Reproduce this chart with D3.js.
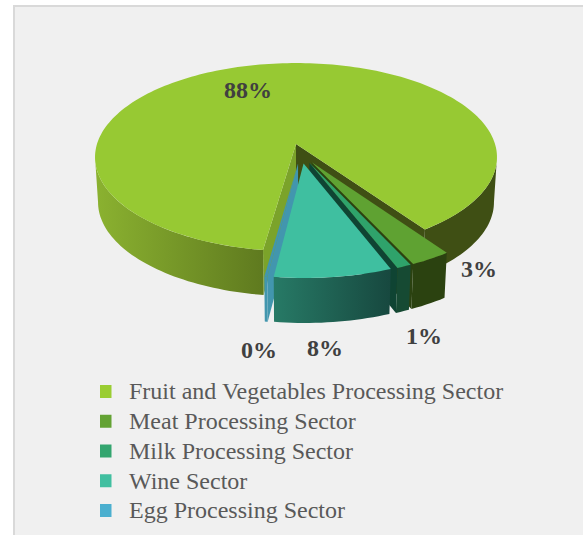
<!DOCTYPE html>
<html>
<head>
<meta charset="utf-8">
<script src="https://cdn.jsdelivr.net/npm/d3@7"></script>
<style>
  html, body { margin: 0; padding: 0; background: #fff; }
  svg { display: block; }
  text { font-family: "Liberation Serif", serif; }
</style>
</head>
<body>
<script>
// values
const categories = ["Fruit and Vegetables Processing Sector", "Meat Processing Sector", "Milk Processing Sector", "Wine Sector", "Egg Processing Sector"];
const shares = [88.0, 2.8, 1.0, 8.0, 0.2];

// colours for each slice
const legendColors = ["#9acd32", "#63a233", "#33a56f", "#41bfa0", "#4bafcf"];
const topColors = ["#97c933", "#5fa232", "#2fa36b", "#3fbfa0", "#4296ae"];
const wallStart = ["#8bb230", "#2b4210", "#164a33", "#277a66", "#4296ae"];
const wallEnd = ["#5f7a1f", "#2b4210", "#164a33", "#17483f", "#4296ae"];
const faceStart = ["#7ba32a", "#2b4210", "#164a33", "#17483f", "#4296ae"];
const faceEnd = ["#3f4f14", "#2b4210", "#0f4433", "#17483f", "#4296ae"];

// label placement, same order as categories
const labelX = [248, 479, 424, 325, 259];
const labelY = [90, 269, 336, 348, 350];

const width = 583, height = 535;
const firstAngle = 188.2;   // first slice angle, degrees clockwise from the top
const explode = 0.105;
const tilt = 0.14;          // perspective strength
const depth = 45;
const bottomScaleX = 0.985; // the bottom face is a little narrower
const silhouette = [98, 262]; // wall is only visible between these angles

const rad = d => d * Math.PI / 180;

const xScale = d3.scaleLinear().domain([-1, 1]).range([296 - 199, 296 + 199]);
const yScale = d3.scaleLinear().domain([-1, 1]).range([144 - 92.3, 144 + 92.3]);

const svg = d3.select("body").append("svg")
  .attr("width", width)
  .attr("height", height);

// chart area
svg.append("rect")
  .attr("x", 14).attr("y", 6)
  .attr("width", width).attr("height", height)
  .attr("fill", "#f0f0f0")
  .attr("stroke", "#d9d9d9")
  .attr("stroke-width", 2);

const defs = svg.append("defs");

// project a point on the disc, level 0 is the top face and 1 the bottom face
function project(u, v, level) {
  const s = 1 / (1 - tilt * v);
  return level
    ? [xScale(u * s * bottomScaleX), yScale(v * s) + depth]
    : [xScale(u * s), yScale(v * s)];
}

const dir = a => [Math.sin(rad(a)), -Math.cos(rad(a))];
const line = d3.line();

const arcs = d3.pie().sort(null).value(d => d)
  .startAngle(rad(firstAngle))
  .endAngle(rad(firstAngle + 360))(shares)
  .map(d => ({
    index: d.index,
    start: d.startAngle * 180 / Math.PI,
    end: d.endAngle * 180 / Math.PI,
    mid: (d.startAngle + d.endAngle) * 90 / Math.PI
  }));

// the big slice sits at the origin, every other one moves out from the common centre
const bigDir = dir(arcs[0].mid);
arcs.forEach(d => {
  const m = dir(d.mid);
  d.ou = explode * (m[0] - bigDir[0]);
  d.ov = explode * (m[1] - bigDir[1]);
});

function rimPoint(d, a, level) {
  const p = dir(a);
  return project(d.ou + p[0], d.ov + p[1], level);
}

function arcPoints(d, a0, a1, level) {
  const n = Math.max(2, Math.ceil(Math.abs(a1 - a0) / 1.5));
  return d3.range(n + 1).map(i => rimPoint(d, a0 + (a1 - a0) * i / n, level));
}

const pieG = svg.append("g");

function drawFace(d, a, color) {
  const apexTop = project(d.ou, d.ov, 0), apexBottom = project(d.ou, d.ov, 1);
  pieG.append("path")
    .attr("d", line([apexTop, rimPoint(d, a, 0), rimPoint(d, a, 1), apexBottom]) + "Z")
    .attr("fill", color);
}

function drawWall(d, a0, a1) {
  const top = arcPoints(d, a0, a1, 0);
  const bottom = arcPoints(d, a1, a0, 1);
  const id = "wall" + d.index + "-" + Math.round(a0);
  const xs = d3.extent(top.concat(bottom), p => p[0]);
  const g = defs.append("linearGradient")
    .attr("id", id)
    .attr("gradientUnits", "userSpaceOnUse")
    .attr("x1", xs[0]).attr("x2", xs[1])
    .attr("y1", 0).attr("y2", 0);
  g.append("stop").attr("offset", 0).attr("stop-color", wallStart[d.index]);
  g.append("stop").attr("offset", 1).attr("stop-color", wallEnd[d.index]);
  const isRight = a0 % 360 < 180 && d.index === 0;
  pieG.append("path")
    .attr("d", line(top.concat(bottom)) + "Z")
    .attr("fill", isRight ? faceEnd[0] : "url(#" + id + ")");
}

// egg goes under wine, so paint it first
const paintOrder = [0, 1, 2, 4, 3];
paintOrder.map(i => arcs[i]).forEach(d => {
  // cut faces first, only the ones turned towards the viewer
  if (Math.sin(rad(d.start)) < 0) drawFace(d, d.start, faceStart[d.index]);
  if (Math.sin(rad(d.end)) > 0) drawFace(d, d.end, faceEnd[d.index]);

  // outer wall, front half only
  [0, 1].forEach(k => {
    const a0 = Math.max(d.start, silhouette[0] + 360 * k);
    const a1 = Math.min(d.end, silhouette[1] + 360 * k);
    if (a1 > a0) drawWall(d, a0, a1);
  });

  // top
  pieG.append("path")
    .attr("d", line([project(d.ou, d.ov, 0)].concat(arcPoints(d, d.start, d.end, 0))) + "Z")
    .attr("fill", topColors[d.index]);
});

// percentage labels
svg.append("g").selectAll("text")
  .data(shares)
  .enter().append("text")
    .attr("x", (d, i) => labelX[i])
    .attr("y", (d, i) => labelY[i])
    .attr("dy", "0.35em")
    .attr("text-anchor", "middle")
    .attr("font-size", 24)
    .attr("font-weight", "bold")
    .attr("fill", "#404040")
    .text(d => d3.format(".0f")(d) + "%");

// legend
const legendY = d3.scalePoint().domain(categories).range([391.5, 510.5]);
const legend = svg.append("g").selectAll("g")
  .data(categories)
  .enter().append("g")
    .attr("transform", d => "translate(100," + legendY(d) + ")");

legend.append("rect")
  .attr("y", -6.5)
  .attr("width", 11.5)
  .attr("height", 13)
  .attr("fill", (d, i) => legendColors[i]);

legend.append("text")
  .attr("x", 29)
  .attr("dy", "0.33em")
  .attr("font-size", 24)
  .attr("fill", "#595959")
  .text(d => d);
</script>
</body>
</html>
